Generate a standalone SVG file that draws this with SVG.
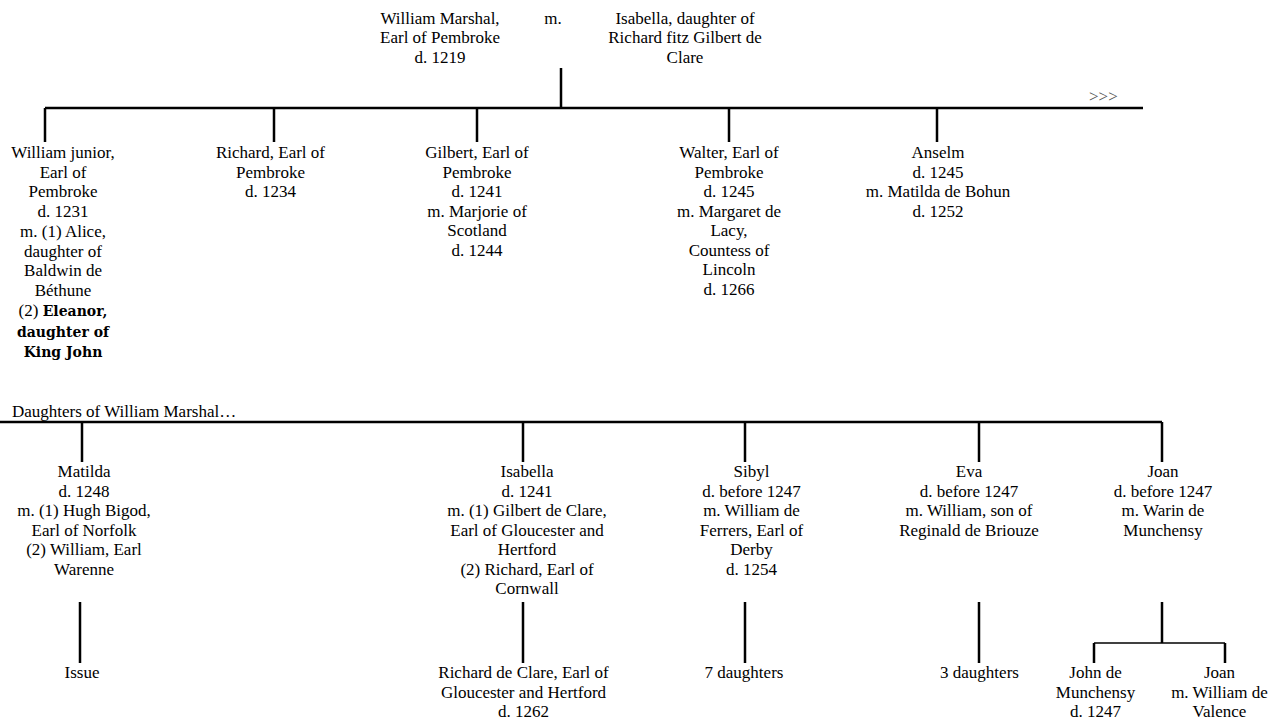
<svg xmlns="http://www.w3.org/2000/svg" width="1273" height="721" viewBox="0 0 1273 721">
<style>
text{font-family:"Liberation Serif","Times New Roman",serif;font-size:17px;fill:#000;text-anchor:middle}
.b{font-family:"DejaVu Serif",serif;font-weight:bold;font-size:14px}
.g{fill:#555;text-anchor:start}
.l{stroke:#000;stroke-width:2.5;fill:none}
.t{stroke:#000;stroke-width:1.6;fill:none}
</style>
<rect width="1273" height="721" fill="#fff"/>
<g id="connectors">
<path class="l" d="M561 68V108M45 108H1143M45 108V142M274 108V142M477 108V142M729 108V142M937 108V142"/>
<path class="l" d="M0 422H1162M82 422V462M523 422V462M745 422V462M979 422V462M1162 422V462"/>
<path class="l" d="M80 602V663M523 602V663M745 602V663M979 602V663M1162 602V643"/>
<path class="t" d="M1094 643H1225"/>
<path class="l" d="M1094 643V663M1225 643V663"/>
</g>
<g id="william-marshal"><text x="440" y="23.5"><tspan x="440">William Marshal,</tspan><tspan x="440" dy="19.55">Earl of Pembroke</tspan><tspan x="440" dy="19.55">d. 1219</tspan></text></g>
<g id="marriage"><text x="553" y="23.5">m.</text></g>
<g id="isabella-clare"><text x="685" y="23.5"><tspan x="685">Isabella, daughter of</tspan><tspan x="685" dy="19.55">Richard fitz Gilbert de</tspan><tspan x="685" dy="19.55">Clare</tspan></text></g>
<g id="more"><text class="g" x="1089" y="101.5">&gt;&gt;&gt;</text></g>
<g id="william-junior"><text y="158"><tspan x="63">William junior,</tspan><tspan x="63" dy="19.7">Earl of</tspan><tspan x="63" dy="19.7">Pembroke</tspan><tspan x="63" dy="19.7">d. 1231</tspan><tspan x="63" dy="19.7">m. (1) Alice,</tspan><tspan x="63" dy="19.7">daughter of</tspan><tspan x="63" dy="19.7">Baldwin de</tspan><tspan x="63" dy="19.7">Béthune</tspan><tspan x="63" dy="20.5">(2) <tspan class="b">Eleanor,</tspan></tspan></text><text class="b" y="337"><tspan x="63">daughter of</tspan><tspan x="63" dy="20">King John</tspan></text></g>
<g id="richard"><text y="158"><tspan x="270.5">Richard, Earl of</tspan><tspan x="270.5" dy="19.55">Pembroke</tspan><tspan x="270.5" dy="19.55">d. 1234</tspan></text></g>
<g id="gilbert"><text y="158"><tspan x="477">Gilbert, Earl of</tspan><tspan x="477" dy="19.55">Pembroke</tspan><tspan x="477" dy="19.55">d. 1241</tspan><tspan x="477" dy="19.55">m. Marjorie of</tspan><tspan x="477" dy="19.55">Scotland</tspan><tspan x="477" dy="19.55">d. 1244</tspan></text></g>
<g id="walter"><text y="158"><tspan x="729">Walter, Earl of</tspan><tspan x="729" dy="19.55">Pembroke</tspan><tspan x="729" dy="19.55">d. 1245</tspan><tspan x="729" dy="19.55">m. Margaret de</tspan><tspan x="729" dy="19.55">Lacy,</tspan><tspan x="729" dy="19.55">Countess of</tspan><tspan x="729" dy="19.55">Lincoln</tspan><tspan x="729" dy="19.55">d. 1266</tspan></text></g>
<g id="anselm"><text y="158"><tspan x="938">Anselm</tspan><tspan x="938" dy="19.55">d. 1245</tspan><tspan x="938" dy="19.55">m. Matilda de Bohun</tspan><tspan x="938" dy="19.55">d. 1252</tspan></text></g>
<g id="daughters-label"><text x="12" y="417" style="text-anchor:start">Daughters of William Marshal…</text></g>
<g id="matilda"><text y="477"><tspan x="84">Matilda</tspan><tspan x="84" dy="19.55">d. 1248</tspan><tspan x="84" dy="19.55">m. (1) Hugh Bigod,</tspan><tspan x="84" dy="19.55">Earl of Norfolk</tspan><tspan x="84" dy="19.55">(2) William, Earl</tspan><tspan x="84" dy="19.55">Warenne</tspan></text></g>
<g id="issue"><text x="82" y="678">Issue</text></g>
<g id="isabella"><text y="477"><tspan x="527">Isabella</tspan><tspan x="527" dy="19.55">d. 1241</tspan><tspan x="527" dy="19.55">m. (1) Gilbert de Clare,</tspan><tspan x="527" dy="19.55">Earl of Gloucester and</tspan><tspan x="527" dy="19.55">Hertford</tspan><tspan x="527" dy="19.55">(2) Richard, Earl of</tspan><tspan x="527" dy="19.55">Cornwall</tspan></text></g>
<g id="richard-de-clare"><text y="678"><tspan x="523.5">Richard de Clare, Earl of</tspan><tspan x="523.5" dy="19.55">Gloucester and Hertford</tspan><tspan x="523.5" dy="19.55">d. 1262</tspan></text></g>
<g id="sibyl"><text y="477"><tspan x="751.5">Sibyl</tspan><tspan x="751.5" dy="19.55">d. before 1247</tspan><tspan x="751.5" dy="19.55">m. William de</tspan><tspan x="751.5" dy="19.55">Ferrers, Earl of</tspan><tspan x="751.5" dy="19.55">Derby</tspan><tspan x="751.5" dy="19.55">d. 1254</tspan></text></g>
<g id="seven-daughters"><text x="744" y="678">7 daughters</text></g>
<g id="eva"><text y="477"><tspan x="969">Eva</tspan><tspan x="969" dy="19.55">d. before 1247</tspan><tspan x="969" dy="19.55">m. William, son of</tspan><tspan x="969" dy="19.55">Reginald de Briouze</tspan></text></g>
<g id="three-daughters"><text x="979.5" y="678">3 daughters</text></g>
<g id="joan"><text y="477"><tspan x="1163">Joan</tspan><tspan x="1163" dy="19.55">d. before 1247</tspan><tspan x="1163" dy="19.55">m. Warin de</tspan><tspan x="1163" dy="19.55">Munchensy</tspan></text></g>
<g id="john-de-munchensy"><text y="678"><tspan x="1095.5">John de</tspan><tspan x="1095.5" dy="19.55">Munchensy</tspan><tspan x="1095.5" dy="19.55">d. 1247</tspan></text></g>
<g id="joan-valence"><text y="678"><tspan x="1219.5">Joan</tspan><tspan x="1219.5" dy="19.55">m. William de</tspan><tspan x="1219.5" dy="19.55">Valence</tspan></text></g>
</svg>
